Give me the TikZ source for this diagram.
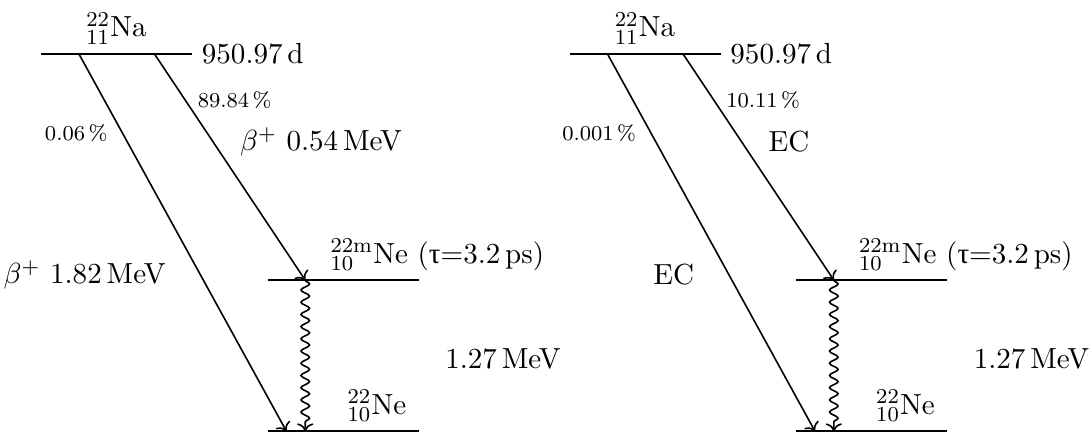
\documentclass[tikz,border=0pt]{standalone}
\usepackage{fontspec}
\newfontfamily\grkfont{Liberation Serif}
\usetikzlibrary{arrows.meta, positioning, decorations.pathmorphing}

\begin{document}
\begin{tikzpicture}[font=\fontsize{10.95}{13}\selectfont,
    level/.style={thick},
    decay/.style={->, semithick},
    gam/.style={->, semithick, decorate,
      decoration={snake, amplitude=1.6pt, segment length=4.6pt, post length=2pt}},
    pct/.style={font=\fontsize{8}{9.6}\selectfont}]
  \useasboundingbox (-0.543,-0.053) rectangle (13.92,5.71);

  % beta+ decay
  \draw[level] (0,5) -- (2,5) node[right] (tL) {950.97\,d};
  \node[above] (naL) at (1,5) {$^{22}_{11}$Na};
  \draw[level] (3,2) -- (5,2);
  \node[above] (nemL) at (5.25,2) {$^{22\mathrm{m}}_{10}$Ne ({\grkfont τ}=3.2\,ps)};
  \draw[level] (3,0) -- (5,0);
  \node[above] (neL) at (4.45,0) {$^{22}_{10}$Ne};
  \node[right] (eL) at (5.23,0.95) {1.27\,MeV};
  \coordinate (s1L) at (0.5,5);
  \coordinate (s2L) at (1.5,5);
  \coordinate (e1L) at (3.25,0);
  \coordinate (e2L) at (3.5,2);
  \coordinate (gL) at (3.5,0);
  \draw[decay] (s1L) -- node[pct, pos=.21, left=2pt] (p1L) {0.06\,\%}
    node[pos=.586, left=9.5pt] (b1L) {$\beta^+$~1.82\,MeV} (e1L);
  \draw[decay] (s2L) -- node[pct, pos=.207, right=1pt] (p2L) {89.84\,\%}
    node[pos=.39, right=6.5pt] (b2L) {$\beta^+$~0.54\,MeV} (e2L);
  \draw[gam] (e2L) -- (gL);

  % electron capture
  \begin{scope}[xshift=7cm]
    \draw[level] (0,5) -- (2,5) node[right] (tR) {950.97\,d};
    \node[above] (naR) at (1,5) {$^{22}_{11}$Na};
    \draw[level] (3,2) -- (5,2);
    \node[above] (nemR) at (5.25,2) {$^{22\mathrm{m}}_{10}$Ne ({\grkfont τ}=3.2\,ps)};
    \draw[level] (3,0) -- (5,0);
    \node[above] (neR) at (4.45,0) {$^{22}_{10}$Ne};
    \node[right] (eR) at (5.23,0.95) {1.27\,MeV};
    \coordinate (s1R) at (0.5,5);
    \coordinate (s2R) at (1.5,5);
    \coordinate (e1R) at (3.25,0);
    \coordinate (e2R) at (3.5,2);
    \coordinate (gR) at (3.5,0);
    \draw[decay] (s1R) -- node[pct, pos=.21, left=2pt] (p1R) {0.001\,\%}
      node[pos=.586, left=9.5pt] (b1R) {EC} (e1R);
    \draw[decay] (s2R) -- node[pct, pos=.207, right=1pt] (p2R) {10.11\,\%}
      node[pos=.39, right=6.5pt] (b2R) {EC} (e2R);
    \draw[gam] (e2R) -- (gR);
  \end{scope}
\end{tikzpicture}
\end{document}
